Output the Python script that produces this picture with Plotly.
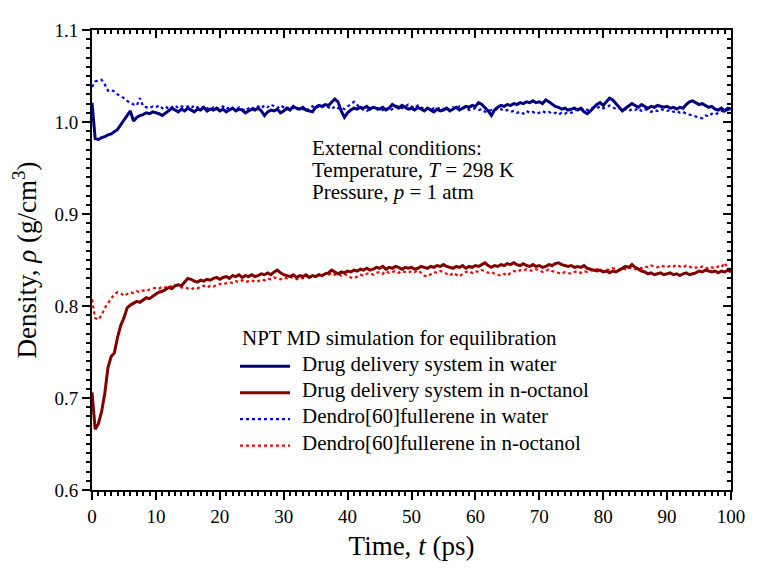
import plotly.graph_objects as go

# time grid of the MD output (ps)
time_ps = [i * 0.5 for i in range(201)]

# Density (g/cm3)
dds_water = [
    1.021, 0.982, 0.981, 0.983, 0.984, 0.986, 0.987, 0.990, 0.992, 0.997,
    1.002, 1.006, 1.012, 1.001, 1.005, 1.007, 1.008, 1.010, 1.009, 1.011,
    1.010, 1.009, 1.007, 1.010, 1.012, 1.015, 1.013, 1.011, 1.014, 1.012,
    1.015, 1.013, 1.011, 1.014, 1.013, 1.016, 1.012, 1.014, 1.013, 1.015,
    1.012, 1.014, 1.011, 1.013, 1.015, 1.012, 1.014, 1.013, 1.010, 1.012,
    1.014, 1.013, 1.015, 1.012, 1.007, 1.011, 1.013, 1.012, 1.014, 1.010,
    1.012, 1.015, 1.013, 1.017, 1.015, 1.014, 1.016, 1.013, 1.012, 1.011,
    1.016, 1.018, 1.017, 1.019, 1.018, 1.021, 1.025, 1.022, 1.012, 1.005,
    1.010, 1.013, 1.015, 1.014, 1.016, 1.015, 1.017, 1.014, 1.016, 1.015,
    1.014, 1.016, 1.013, 1.015, 1.019, 1.017, 1.015, 1.018, 1.016, 1.014,
    1.015, 1.013, 1.016, 1.014, 1.012, 1.015, 1.013, 1.011, 1.014, 1.012,
    1.013, 1.015, 1.012, 1.014, 1.016, 1.013, 1.015, 1.017, 1.016, 1.018,
    1.017, 1.021, 1.019, 1.016, 1.012, 1.007, 1.013, 1.016, 1.018, 1.017,
    1.019, 1.018, 1.020, 1.019, 1.021, 1.020, 1.022, 1.021, 1.023, 1.021,
    1.022, 1.020, 1.024, 1.022, 1.019, 1.017, 1.016, 1.014, 1.015, 1.013,
    1.014, 1.015, 1.013, 1.015, 1.011, 1.009, 1.012, 1.016, 1.019, 1.021,
    1.018, 1.022, 1.026, 1.024, 1.020, 1.016, 1.012, 1.015, 1.018, 1.020,
    1.018, 1.016, 1.019, 1.017, 1.015, 1.017, 1.016, 1.018, 1.017, 1.016,
    1.017, 1.015, 1.016, 1.014, 1.016, 1.015, 1.019, 1.022, 1.023, 1.021,
    1.019, 1.020, 1.018, 1.016, 1.017, 1.014, 1.013, 1.015, 1.012, 1.015,
    1.014,
]

dds_octanol = [
    0.706, 0.666, 0.672, 0.685, 0.705, 0.733, 0.745, 0.749, 0.766, 0.779,
    0.787, 0.798, 0.801, 0.803, 0.805, 0.804, 0.807, 0.809, 0.808, 0.811,
    0.813, 0.815, 0.816, 0.818, 0.820, 0.819, 0.822, 0.823, 0.822, 0.826,
    0.830, 0.829, 0.827, 0.826, 0.828, 0.827, 0.829, 0.828, 0.830, 0.831,
    0.829, 0.831, 0.832, 0.830, 0.833, 0.832, 0.834, 0.831, 0.833, 0.832,
    0.834, 0.832, 0.833, 0.835, 0.834, 0.836, 0.834, 0.837, 0.839, 0.836,
    0.834, 0.833, 0.832, 0.834, 0.831, 0.833, 0.832, 0.834, 0.831, 0.833,
    0.832, 0.834, 0.833, 0.835, 0.836, 0.839, 0.837, 0.835, 0.837, 0.836,
    0.838, 0.837, 0.839, 0.838, 0.840, 0.839, 0.841, 0.839, 0.840, 0.842,
    0.841, 0.843, 0.840, 0.842, 0.841, 0.843, 0.842, 0.840, 0.842, 0.841,
    0.842, 0.840, 0.841, 0.843, 0.842, 0.841, 0.843, 0.842, 0.844, 0.843,
    0.845, 0.843, 0.842, 0.841, 0.843, 0.842, 0.844, 0.841, 0.843, 0.842,
    0.844, 0.843, 0.845, 0.847, 0.844, 0.842, 0.844, 0.843, 0.845, 0.844,
    0.846, 0.845, 0.847, 0.845, 0.844, 0.846, 0.844, 0.843, 0.845, 0.843,
    0.844, 0.842, 0.843, 0.845, 0.844, 0.846, 0.847, 0.845, 0.844, 0.843,
    0.844, 0.842, 0.843, 0.842, 0.844, 0.841, 0.840, 0.839, 0.838, 0.839,
    0.837, 0.838, 0.836, 0.838, 0.837, 0.839, 0.841, 0.843, 0.842, 0.845,
    0.842, 0.840, 0.838, 0.837, 0.835, 0.836, 0.834, 0.835, 0.836, 0.834,
    0.835, 0.836, 0.834, 0.835, 0.833, 0.835, 0.836, 0.834, 0.835, 0.836,
    0.838, 0.837, 0.839, 0.838, 0.837, 0.838, 0.836, 0.838, 0.837, 0.839,
    0.837,
]

dendro_water = [
    1.038, 1.044, 1.045, 1.046, 1.041, 1.034, 1.035, 1.033, 1.030, 1.028,
    1.026, 1.023, 1.021, 1.019, 1.018, 1.026, 1.017, 1.016, 1.015, 1.017,
    1.016, 1.018, 1.015, 1.017, 1.014, 1.016, 1.018, 1.015, 1.017, 1.016,
    1.017, 1.015, 1.018, 1.016, 1.014, 1.017, 1.015, 1.013, 1.016, 1.014,
    1.015, 1.017, 1.014, 1.016, 1.015, 1.013, 1.016, 1.014, 1.012, 1.015,
    1.016, 1.014, 1.017, 1.015, 1.018, 1.016, 1.019, 1.017, 1.015, 1.018,
    1.016, 1.014, 1.017, 1.015, 1.013, 1.016, 1.014, 1.012, 1.015, 1.017,
    1.015, 1.017, 1.016, 1.018, 1.016, 1.014, 1.017, 1.015, 1.016, 1.014,
    1.017, 1.019, 1.022, 1.018, 1.015, 1.013, 1.012, 1.014, 1.016, 1.013,
    1.015, 1.013, 1.016, 1.012, 1.014, 1.016, 1.018, 1.015, 1.017, 1.019,
    1.017, 1.015, 1.018, 1.016, 1.014, 1.015, 1.013, 1.015, 1.014, 1.016,
    1.014, 1.015, 1.013, 1.016, 1.014, 1.017, 1.015, 1.016, 1.013, 1.014,
    1.015, 1.013, 1.014, 1.011, 1.012, 1.013, 1.015, 1.013, 1.014, 1.012,
    1.013, 1.011, 1.012, 1.010, 1.011, 1.009, 1.012, 1.010, 1.011, 1.009,
    1.010, 1.012, 1.010, 1.011, 1.009, 1.010, 1.008, 1.010, 1.009, 1.011,
    1.010, 1.012, 1.014, 1.013, 1.015, 1.013, 1.014, 1.016, 1.015, 1.017,
    1.015, 1.016, 1.018, 1.016, 1.014, 1.015, 1.013, 1.014, 1.012, 1.014,
    1.013, 1.015, 1.012, 1.014, 1.013, 1.011, 1.013, 1.012, 1.014, 1.013,
    1.012, 1.013, 1.011, 1.012, 1.010, 1.011, 1.009, 1.008, 1.007, 1.006,
    1.005, 1.004, 1.007, 1.006, 1.009, 1.008, 1.010, 1.012, 1.011, 1.013,
    1.014,
]

dendro_octanol = [
    0.807, 0.787, 0.785, 0.790, 0.798, 0.803, 0.809, 0.813, 0.815, 0.814,
    0.811, 0.813, 0.815, 0.814, 0.816, 0.815, 0.817, 0.816, 0.818, 0.819,
    0.820, 0.819, 0.821, 0.820, 0.822, 0.821, 0.823, 0.822, 0.820, 0.821,
    0.819, 0.818, 0.820, 0.819, 0.821, 0.822, 0.820, 0.822, 0.821, 0.823,
    0.824, 0.823, 0.825, 0.826, 0.825, 0.827, 0.826, 0.828, 0.826, 0.827,
    0.828, 0.826, 0.827, 0.829, 0.828, 0.830, 0.829, 0.831, 0.830, 0.829,
    0.831, 0.830, 0.832, 0.830, 0.829, 0.831, 0.830, 0.832, 0.831, 0.833,
    0.832, 0.834, 0.833, 0.835, 0.834, 0.836, 0.834, 0.835, 0.833, 0.835,
    0.833, 0.831, 0.830, 0.832, 0.834, 0.833, 0.835, 0.836, 0.834, 0.836,
    0.837, 0.835, 0.838, 0.836, 0.837, 0.838, 0.836, 0.838, 0.837, 0.836,
    0.838, 0.837, 0.839, 0.836, 0.833, 0.832, 0.835, 0.837, 0.836, 0.838,
    0.837, 0.835, 0.833, 0.836, 0.834, 0.832, 0.835, 0.837, 0.838, 0.836,
    0.838, 0.837, 0.839, 0.838, 0.836, 0.837, 0.835, 0.834, 0.833, 0.835,
    0.833, 0.836, 0.838, 0.837, 0.839, 0.838, 0.840, 0.839, 0.838, 0.840,
    0.839, 0.837, 0.838, 0.840, 0.838, 0.837, 0.836, 0.835, 0.837, 0.836,
    0.835, 0.837, 0.838, 0.836, 0.838, 0.837, 0.839, 0.838, 0.840, 0.839,
    0.838, 0.840, 0.839, 0.841, 0.840, 0.839, 0.841, 0.840, 0.842, 0.841,
    0.840, 0.842, 0.841, 0.843, 0.842, 0.844, 0.843, 0.842, 0.844, 0.843,
    0.842, 0.844, 0.843, 0.845, 0.843, 0.842, 0.844, 0.843, 0.841, 0.842,
    0.841, 0.843, 0.842, 0.840, 0.842, 0.841, 0.843, 0.842, 0.847, 0.841,
    0.840,
]

series_names = [
    "Drug delivery system in water",
    "Drug delivery system in n-octanol",
    "Dendro[60]fullerene in water",
    "Dendro[60]fullerene in n-octanol",
]
series_colors = ["#000080", "#800000", "#0000FF", "#FF0000"]
series_dash = ["solid", "solid", "dot", "dot"]
series_width = [3, 3, 2.2, 2.2]
series_data = [dds_water, dds_octanol, dendro_water, dendro_octanol]

FONT = "Liberation Serif, Times New Roman, serif"

fig = go.Figure()

# dotted curves first so the solid ones sit on top
for i in [2, 3, 0, 1]:
    fig.add_trace(go.Scatter(x=time_ps, y=series_data[i], mode="lines", name=series_names[i],
                             line=dict(color=series_colors[i], width=series_width[i],
                                       dash=series_dash[i]),
                             showlegend=False))
# empty trace so the top/right frame axes get drawn
fig.add_trace(go.Scatter(x=[], y=[], xaxis="x2", yaxis="y2", showlegend=False,
                         hoverinfo="skip"))

axis_common = dict(showgrid=False, zeroline=False, showline=True, linecolor="black",
                   linewidth=2, tickcolor="black", tickwidth=2, ticklen=8,
                   tickfont=dict(family=FONT, size=19, color="black"))

fig.update_xaxes(range=[0, 100], dtick=10, ticks="outside",
                 minor=dict(dtick=1, ticklen=4, tickwidth=1.5, tickcolor="black", ticks="outside"),
                 title=dict(text="Time, <i>t</i> (ps)", font=dict(family=FONT, size=27, color="black"),
                            standoff=10),
                 **axis_common)
fig.update_yaxes(range=[0.6, 1.1], dtick=0.1, tickformat=".1f", ticks="outside",
                 minor=dict(dtick=0.01, ticklen=4, tickwidth=1.5, tickcolor="black", ticks="outside"),
                 title=dict(text="Density, <i>ρ</i> (g/cm<sup>3</sup>)",
                            font=dict(family=FONT, size=27, color="black"), standoff=14),
                 **axis_common)

# top and right frame with ticks pointing into the plot
fig.update_layout(
    xaxis2=dict(overlaying="x", side="top", anchor="y", range=[0, 100], dtick=10,
                ticks="inside", showticklabels=False,
                minor=dict(dtick=1, ticklen=4, tickwidth=1.5, tickcolor="black", ticks="inside"),
                **axis_common),
    yaxis2=dict(overlaying="y", side="right", anchor="x", range=[0.6, 1.1], dtick=0.1,
                ticks="inside", showticklabels=False,
                minor=dict(dtick=0.01, ticklen=4, tickwidth=1.5, tickcolor="black", ticks="inside"),
                **axis_common),
)

# text block with the simulation conditions
cond_lines = ["External conditions:", "Temperature, <i>T</i> = 298 K", "Pressure, <i>p</i> = 1 atm"]
for k, txt in enumerate(cond_lines):
    fig.add_annotation(x=0.341, y=0.744 - k * 0.048, xref="paper", yref="paper",
                       xanchor="left", yanchor="middle", showarrow=False, text=txt,
                       font=dict(family=FONT, size=21, color="black"))

# legend box drawn Origin style: title, then sample line + label per series
fig.add_annotation(x=0.232, y=0.330, xref="paper", yref="paper", xanchor="left",
                   yanchor="middle", showarrow=False,
                   text="NPT MD simulation for equilibration",
                   font=dict(family=FONT, size=21, color="black"))
for k in range(4):
    ky = 0.269 - k * 0.0575
    fig.add_shape(type="line", xref="paper", yref="paper", x0=0.2316, x1=0.3099,
                  y0=ky, y1=ky,
                  line=dict(color=series_colors[k], width=series_width[k], dash=series_dash[k]))
    fig.add_annotation(x=0.325, y=ky + 0.006, xref="paper", yref="paper", xanchor="left",
                       yanchor="middle", showarrow=False, text=series_names[k],
                       font=dict(family=FONT, size=21, color="black"))

fig.update_layout(
    width=766, height=572,
    margin=dict(l=84, r=43, t=13, b=90),
    plot_bgcolor="white", paper_bgcolor="white",
    font=dict(family=FONT, color="black"),
    showlegend=False,
)

fig.write_html("out.html")
